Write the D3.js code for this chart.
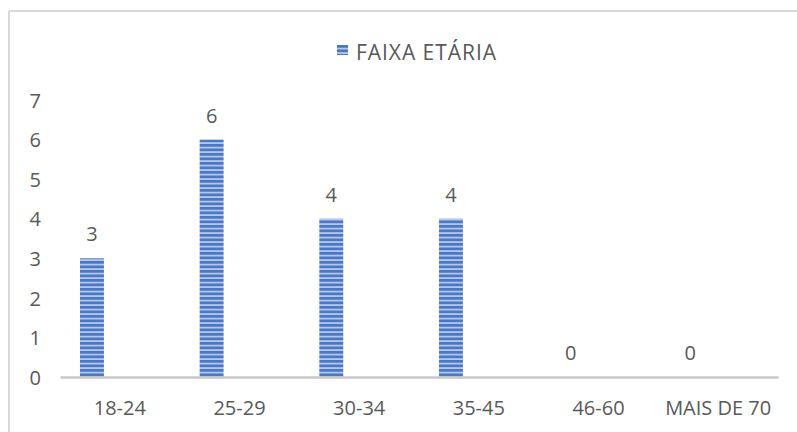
<!DOCTYPE html>
<html>
<head>
<meta charset="utf-8">
<script src="https://cdn.jsdelivr.net/npm/d3@7"></script>
<style>
html,body{margin:0;padding:0;background:#fff;}
svg{display:block;}
text{font-family:"Open Sans",sans-serif;fill:#595959;}
</style>
</head>
<body>
<svg id="chart" width="797" height="432"></svg>
<script>
const categories = ["18-24","25-29","30-34","35-45","46-60","MAIS DE 70"];
const values = [3,6,4,4,0,0];
const seriesName = "FAIXA ETÁRIA";
const yTicks = [0,1,2,3,4,5,6,7];

const svg = d3.select("#chart");
const W = 797, H = 432;

// outer frame (partial, cropped)
svg.append("line").attr("x1",9).attr("x2",9).attr("y1",11).attr("y2",H)
  .attr("stroke","#d9d9d9").attr("stroke-width",2);
svg.append("line").attr("x1",9).attr("x2",W).attr("y1",11).attr("y2",11)
  .attr("stroke","#d9d9d9").attr("stroke-width",2);

// stripe pattern
const defs = svg.append("defs");
const pat = defs.append("pattern").attr("id","stripes").attr("patternUnits","userSpaceOnUse")
  .attr("width",8).attr("height",4.5);
pat.append("rect").attr("width",8).attr("height",4.5).attr("fill","#b4c7e8");
pat.append("rect").attr("width",8).attr("height",2.7).attr("fill","#4a77c6");

const x = d3.scaleBand().domain(categories).range([60,778]).padding(0);
const y = d3.scaleLinear().domain([0,7]).range([377,100]);

const bw = x.bandwidth();
const barW = bw*0.2;
const barC = bw*0.267;

// y tick labels
const yAxis = d3.axisLeft(y).tickValues(yTicks).tickSize(0).tickPadding(0).tickFormat(d3.format("d"));
const gy = svg.append("g").attr("transform","translate(41,0)").call(yAxis);
gy.select(".domain").remove();
gy.selectAll("text").attr("font-size",20).attr("fill","#595959")
  .style("font-family","'Open Sans',sans-serif").attr("dy","0.36em");

// bars
svg.append("g").selectAll("rect").data(values).join("rect")
  .attr("x",(d,i)=>x(categories[i])+barC-barW/2)
  .attr("y",d=>y(d))
  .attr("width",barW)
  .attr("height",d=>y(0)-y(d))
  .attr("fill","url(#stripes)");

// x axis
const xAxis = d3.axisBottom(x).tickSize(0).tickPadding(0);
const gx = svg.append("g").attr("transform",`translate(0,${y(0)})`).call(xAxis);
gx.select(".domain").attr("stroke","#c8c8c8").attr("stroke-width",2.5);
gx.selectAll("text").attr("font-size",20).attr("fill","#595959")
  .style("font-family","'Open Sans',sans-serif").attr("y",24).attr("dy","0.71em");

// data labels
svg.append("g").selectAll("text").data(values).join("text")
  .attr("x",(d,i)=>x(categories[i])+barC)
  .attr("y",d=>y(d)-17)
  .attr("text-anchor","middle")
  .attr("font-size",20)
  .text(d=>d);

// legend
const lg = svg.append("g");
lg.append("rect").attr("x",337).attr("y",45).attr("width",11).attr("height",10).attr("fill","url(#stripes)");
lg.append("text").attr("x",356).attr("y",60).attr("font-size",21).attr("textLength",140).text(seriesName);
</script>
</body>
</html>
